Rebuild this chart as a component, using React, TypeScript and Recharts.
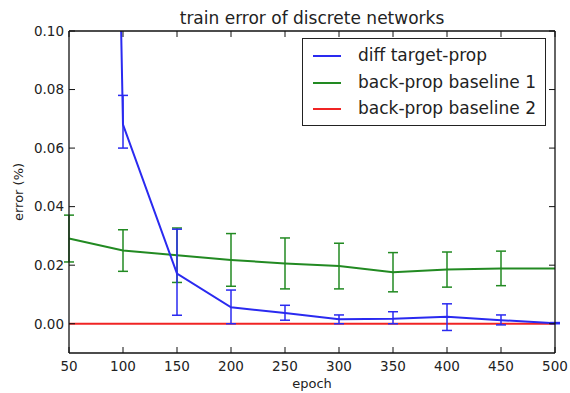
import React from 'react';
import { LineChart, Line, XAxis, YAxis, ErrorBar, Legend, Label } from 'recharts';

const epochs = [50, 100, 150, 200, 250, 300, 350, 400, 450, 500];
const diffTargetProp = [1.0, 0.068, 0.0171, 0.0056, 0.0037, 0.0015, 0.0017, 0.0024, 0.0012, 0.0002];
const diffTargetPropErrLow = [0.2, 0.008, 0.0142, 0.0056, 0.0025, 0.0015, 0.0017, 0.0047, 0.0016, 0.0002];
const diffTargetPropErrHigh = [0.2, 0.010, 0.0152, 0.0059, 0.0026, 0.0015, 0.0024, 0.0044, 0.0018, 0.0002];
const baseline1 = [0.0291, 0.025, 0.0234, 0.0218, 0.0206, 0.0197, 0.0176, 0.0185, 0.0189, 0.0189];
const baseline1Err = [0.008, 0.0071, 0.0093, 0.009, 0.0087, 0.0078, 0.0067, 0.006, 0.0059, 0];
const baseline2 = [0, 0, 0, 0, 0, 0, 0, 0, 0, 0];

const xTicks = [50, 100, 150, 200, 250, 300, 350, 400, 450, 500];
const yTicks = [0, 0.02, 0.04, 0.06, 0.08, 0.1];
const seriesNames = ['diff target-prop', 'back-prop baseline 1', 'back-prop baseline 2'];
const seriesColors = ['#2a2af0', '#228a22', '#f02424'];
const title = 'train error of discrete networks';
const xLabel = 'epoch';
const yLabel = 'error (%)';

const data = epochs.map((e, i) => ({
  epoch: e,
  tp: diffTargetProp[i],
  tpErr: [diffTargetPropErrLow[i], diffTargetPropErrHigh[i]],
  b1: baseline1[i],
  b1Err: baseline1Err[i],
  b2: baseline2[i],
}));

const FONT = 'DejaVu Sans';
const TXT = '#222';
const AX = '#111';
const TL = 6;

const BottomTick = (p: any) => (
  <g>
    <line x1={p.x} x2={p.x} y1={p.y} y2={p.y - TL} stroke={AX} strokeWidth={1} />
    <text x={p.x} y={p.y + 18} textAnchor="middle" fontFamily={FONT} fontSize={13.5} fill={TXT}>
      {p.payload.value}
    </text>
  </g>
);
const TopTick = (p: any) => (
  <line x1={p.x} x2={p.x} y1={p.y} y2={p.y + TL} stroke={AX} strokeWidth={1} />
);
const LeftTick = (p: any) => (
  <g>
    <line x1={p.x} x2={p.x + TL} y1={p.y} y2={p.y} stroke={AX} strokeWidth={1} />
    <text x={p.x - 5} y={p.y} dy="0.36em" textAnchor="end" fontFamily={FONT} fontSize={13.5} fill={TXT}>
      {Number(p.payload.value).toFixed(2)}
    </text>
  </g>
);
const RightTick = (p: any) => (
  <line x1={p.x} x2={p.x - TL} y1={p.y} y2={p.y} stroke={AX} strokeWidth={1} />
);

const LegendBox = () => (
  <div
    style={{
      width: 244,
      height: 88,
      boxSizing: 'border-box',
      border: '1.5px solid #222',
      background: '#fff',
      position: 'relative',
      fontFamily: FONT,
      fontSize: 17,
      color: TXT,
    }}
  >
    {seriesNames.map((n, i) => (
      <div key={n} style={{ position: 'absolute', left: 0, top: 4 + i * 26.5, height: 26, width: '100%' }}>
        <div style={{ position: 'absolute', left: 10, top: 12, width: 28, height: 2, background: seriesColors[i] }} />
        <div style={{ position: 'absolute', left: 55, top: 2, lineHeight: '20px', whiteSpace: 'nowrap' }}>{n}</div>
      </div>
    ))}
  </div>
);

export default function App() {
  return (
    <div style={{ position: 'absolute', left: 0, top: 0, background: '#fff' }}>
      <LineChart width={570} height={393} data={data} margin={{ top: 30, right: 14, bottom: 0, left: 0 }}>
        <XAxis
          dataKey="epoch"
          type="number"
          domain={[50, 500]}
          ticks={xTicks}
          height={40}
          tickSize={0}
          tickMargin={0}
          tickLine={false}
          tick={<BottomTick />}
          axisLine={{ stroke: AX, strokeWidth: 1.3 }}
          interval={0}
        >
          <Label
            content={(p: any) => (
              <text
                x={p.viewBox.x + p.viewBox.width / 2}
                y={p.viewBox.y + 35}
                textAnchor="middle"
                fontFamily={FONT}
                fontSize={13}
                fill={TXT}
              >
                {xLabel}
              </text>
            )}
          />
        </XAxis>
        <XAxis
          xAxisId="top"
          orientation="top"
          dataKey="epoch"
          type="number"
          domain={[50, 500]}
          ticks={xTicks}
          height={1}
          tickSize={0}
          tickMargin={0}
          tickLine={false}
          tick={<TopTick />}
          axisLine={{ stroke: AX, strokeWidth: 1.3 }}
          interval={0}
        >
          <Label
            content={(p: any) => (
              <text
                x={p.viewBox.x + p.viewBox.width / 2}
                y={p.viewBox.y - 6}
                textAnchor="middle"
                fontFamily={FONT}
                fontSize={17}
                fill={TXT}
              >
                {title}
              </text>
            )}
          />
        </XAxis>
        <YAxis
          type="number"
          domain={[-0.01, 0.1]}
          ticks={yTicks}
          allowDataOverflow
          width={69}
          tickSize={0}
          tickMargin={0}
          tickLine={false}
          tick={<LeftTick />}
          axisLine={{ stroke: AX, strokeWidth: 1.3 }}
          interval={0}
        >
          <Label
            content={(p: any) => {
              const cx = p.viewBox.x + 18;
              const cy = p.viewBox.y + p.viewBox.height / 2;
              return (
                <text
                  x={cx}
                  y={cy}
                  transform={`rotate(-90 ${cx} ${cy})`}
                  textAnchor="middle"
                  dy="0.35em"
                  fontFamily={FONT}
                  fontSize={13}
                  fill={TXT}
                >
                  {yLabel}
                </text>
              );
            }}
          />
        </YAxis>
        <YAxis
          yAxisId="right"
          orientation="right"
          type="number"
          domain={[-0.01, 0.1]}
          ticks={yTicks}
          allowDataOverflow
          width={1}
          tickSize={0}
          tickMargin={0}
          tickLine={false}
          tick={<RightTick />}
          axisLine={{ stroke: AX, strokeWidth: 1.3 }}
          interval={0}
        />
        <Legend
          layout="vertical"
          align="center"
          verticalAlign="middle"
          content={<LegendBox />}
          wrapperStyle={{ position: 'absolute', left: 302, top: 38, width: 244, height: 88 }}
        />
        <Line
          dataKey="b2"
          name={seriesNames[2]}
          stroke={seriesColors[2]}
          strokeWidth={2}
          dot={false}
          isAnimationActive={false}
        />
        <Line
          dataKey="b1"
          name={seriesNames[1]}
          stroke={seriesColors[1]}
          strokeWidth={2}
          dot={false}
          isAnimationActive={false}
        >
          <ErrorBar dataKey="b1Err" direction="y" width={5} stroke={seriesColors[1]} strokeWidth={1.5} isAnimationActive={false} />
        </Line>
        <Line
          dataKey="tp"
          name={seriesNames[0]}
          stroke={seriesColors[0]}
          strokeWidth={2}
          dot={false}
          isAnimationActive={false}
        >
          <ErrorBar dataKey="tpErr" direction="y" width={5} stroke={seriesColors[0]} strokeWidth={1.5} isAnimationActive={false} />
        </Line>
      </LineChart>
    </div>
  );
}
